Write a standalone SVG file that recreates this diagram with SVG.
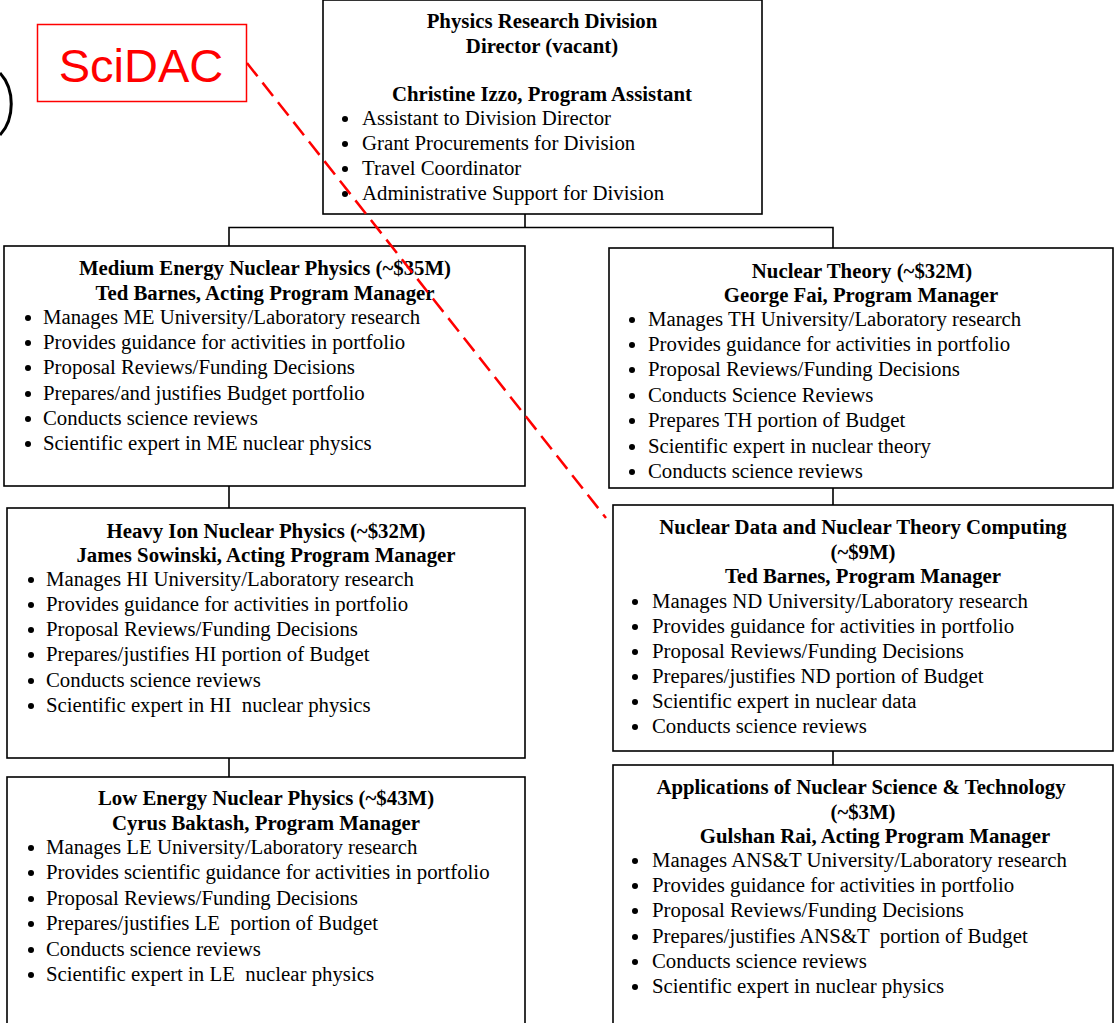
<svg xmlns="http://www.w3.org/2000/svg" width="1115" height="1023" viewBox="0 0 1115 1023">
<style>
.box{fill:#fff;stroke:#000;stroke-width:1.6}
.t{font-family:"Liberation Serif","Times New Roman",serif;font-size:20.8px;font-weight:bold;fill:#000;text-anchor:middle}
.b{font-family:"Liberation Serif","Times New Roman",serif;font-size:20.8px;fill:#000}
.con{fill:none;stroke:#000;stroke-width:1.6}
</style>
<defs><circle id="dot" r="3" fill="#000"/></defs>
<rect width="1115" height="1023" fill="#fff"/>
<g id="connectors">
<path class="con" d="M525,214 V227.5 M229,246 V227.5 H833 V248"/>
<path class="con" d="M229,486 V508 M229,758 V777 M833,488 V505 M833,751 V765"/>
</g>
<g id="arc"><path d="M0,73 C15,89 15,119 0,135" fill="none" stroke="#000" stroke-width="3"/></g>
<g id="director">
<rect class="box" x="323" y="0" width="439" height="214"/>
<text class="t" x="542" y="28">Physics Research Division</text>
<text class="t" x="542" y="53">Director (vacant)</text>
<text class="t" x="542" y="101">Christine Izzo, Program Assistant</text>
<use href="#dot" x="345" y="119"/><use href="#dot" x="345" y="144"/><use href="#dot" x="345" y="169"/><use href="#dot" x="345" y="194"/>
<g class="b"><text x="362" y="125">Assistant to Division Director</text>
<text x="362" y="150">Grant Procurements for Division</text>
<text x="362" y="175">Travel Coordinator</text>
<text x="362" y="200">Administrative Support for Division</text></g>
</g>
<g id="me">
<rect class="box" x="4" y="246" width="521" height="240"/>
<text class="t" x="265" y="275">Medium Energy Nuclear Physics (~$35M)</text>
<text class="t" x="265" y="300">Ted Barnes, Acting Program Manager</text>
<use href="#dot" x="28" y="318"/><use href="#dot" x="28" y="343"/><use href="#dot" x="28" y="368"/><use href="#dot" x="28" y="394"/><use href="#dot" x="28" y="419"/><use href="#dot" x="28" y="444"/>
<g class="b"><text x="43" y="324">Manages ME University/Laboratory research</text>
<text x="43" y="349">Provides guidance for activities in portfolio</text>
<text x="43" y="374">Proposal Reviews/Funding Decisions</text>
<text x="43" y="400">Prepares/and justifies Budget portfolio</text>
<text x="43" y="425">Conducts science reviews</text>
<text x="43" y="450">Scientific expert in ME nuclear physics</text></g>
</g>
<g id="hi">
<rect class="box" x="7" y="508" width="518" height="250"/>
<text class="t" x="266" y="538">Heavy Ion Nuclear Physics (~$32M)</text>
<text class="t" x="266" y="562">James Sowinski, Acting Program Manager</text>
<use href="#dot" x="31" y="580"/><use href="#dot" x="31" y="605"/><use href="#dot" x="31" y="630"/><use href="#dot" x="31" y="655"/><use href="#dot" x="31" y="681"/><use href="#dot" x="31" y="706"/>
<g class="b"><text x="46" y="586">Manages HI University/Laboratory research</text>
<text x="46" y="611">Provides guidance for activities in portfolio</text>
<text x="46" y="636">Proposal Reviews/Funding Decisions</text>
<text x="46" y="661">Prepares/justifies HI portion of Budget</text>
<text x="46" y="687">Conducts science reviews</text>
<text x="46" y="712" xml:space="preserve">Scientific expert in HI  nuclear physics</text></g>
</g>
<g id="le">
<rect class="box" x="7" y="777" width="518" height="260"/>
<text class="t" x="266" y="805">Low Energy Nuclear Physics (~$43M)</text>
<text class="t" x="266" y="830">Cyrus Baktash, Program Manager</text>
<use href="#dot" x="31" y="848"/><use href="#dot" x="31" y="873"/><use href="#dot" x="31" y="899"/><use href="#dot" x="31" y="924"/><use href="#dot" x="31" y="950"/><use href="#dot" x="31" y="975"/>
<g class="b"><text x="46" y="854">Manages LE University/Laboratory research</text>
<text x="46" y="879">Provides scientific guidance for activities in portfolio</text>
<text x="46" y="905">Proposal Reviews/Funding Decisions</text>
<text x="46" y="930" xml:space="preserve">Prepares/justifies LE  portion of Budget</text>
<text x="46" y="956">Conducts science reviews</text>
<text x="46" y="981" xml:space="preserve">Scientific expert in LE  nuclear physics</text></g>
</g>
<g id="nt">
<rect class="box" x="609" y="248" width="504" height="240"/>
<text class="t" x="862" y="278">Nuclear Theory (~$32M)</text>
<text class="t" x="861" y="302">George Fai, Program Manager</text>
<use href="#dot" x="632" y="320"/><use href="#dot" x="632" y="345"/><use href="#dot" x="632" y="370"/><use href="#dot" x="632" y="396"/><use href="#dot" x="632" y="421"/><use href="#dot" x="632" y="447"/><use href="#dot" x="632" y="472"/>
<g class="b"><text x="648" y="326">Manages TH University/Laboratory research</text>
<text x="648" y="351">Provides guidance for activities in portfolio</text>
<text x="648" y="376">Proposal Reviews/Funding Decisions</text>
<text x="648" y="402">Conducts Science Reviews</text>
<text x="648" y="427">Prepares TH portion of Budget</text>
<text x="648" y="453">Scientific expert in nuclear theory</text>
<text x="648" y="478">Conducts science reviews</text></g>
</g>
<g id="nd">
<rect class="box" x="613" y="505" width="500" height="246"/>
<text class="t" x="863" y="534">Nuclear Data and Nuclear Theory Computing</text>
<text class="t" x="863" y="559">(~$9M)</text>
<text class="t" x="863" y="583">Ted Barnes, Program Manager</text>
<use href="#dot" x="635" y="602"/><use href="#dot" x="635" y="627"/><use href="#dot" x="635" y="652"/><use href="#dot" x="635" y="677"/><use href="#dot" x="635" y="702"/><use href="#dot" x="635" y="727"/>
<g class="b"><text x="652" y="608">Manages ND University/Laboratory research</text>
<text x="652" y="633">Provides guidance for activities in portfolio</text>
<text x="652" y="658">Proposal Reviews/Funding Decisions</text>
<text x="652" y="683">Prepares/justifies ND portion of Budget</text>
<text x="652" y="708">Scientific expert in nuclear data</text>
<text x="652" y="733">Conducts science reviews</text></g>
</g>
<g id="ans">
<rect class="box" x="613" y="765" width="500" height="270"/>
<text class="t" x="861" y="794">Applications of Nuclear Science &amp; Technology</text>
<text class="t" x="863" y="819">(~$3M)</text>
<text class="t" x="875" y="843">Gulshan Rai, Acting Program Manager</text>
<use href="#dot" x="635" y="861"/><use href="#dot" x="635" y="886"/><use href="#dot" x="635" y="911"/><use href="#dot" x="635" y="937"/><use href="#dot" x="635" y="962"/><use href="#dot" x="635" y="987"/>
<g class="b"><text x="652" y="867">Manages ANS&amp;T University/Laboratory research</text>
<text x="652" y="892">Provides guidance for activities in portfolio</text>
<text x="652" y="917">Proposal Reviews/Funding Decisions</text>
<text x="652" y="943" xml:space="preserve">Prepares/justifies ANS&amp;T  portion of Budget</text>
<text x="652" y="968">Conducts science reviews</text>
<text x="652" y="993">Scientific expert in nuclear physics</text></g>
</g>
<g id="scidac">
<rect x="37.5" y="24.5" width="209" height="77" fill="#fff" stroke="#f00" stroke-width="1.5"/>
<text x="141" y="82" font-family="Liberation Sans, Arial, sans-serif" font-size="47" fill="#f00" text-anchor="middle">SciDAC</text>
</g>
<g id="scidac-link">
<line x1="247" y1="63" x2="606" y2="518" stroke="#f00" stroke-width="2.5" stroke-dasharray="17 8"/>
</g>
</svg>
